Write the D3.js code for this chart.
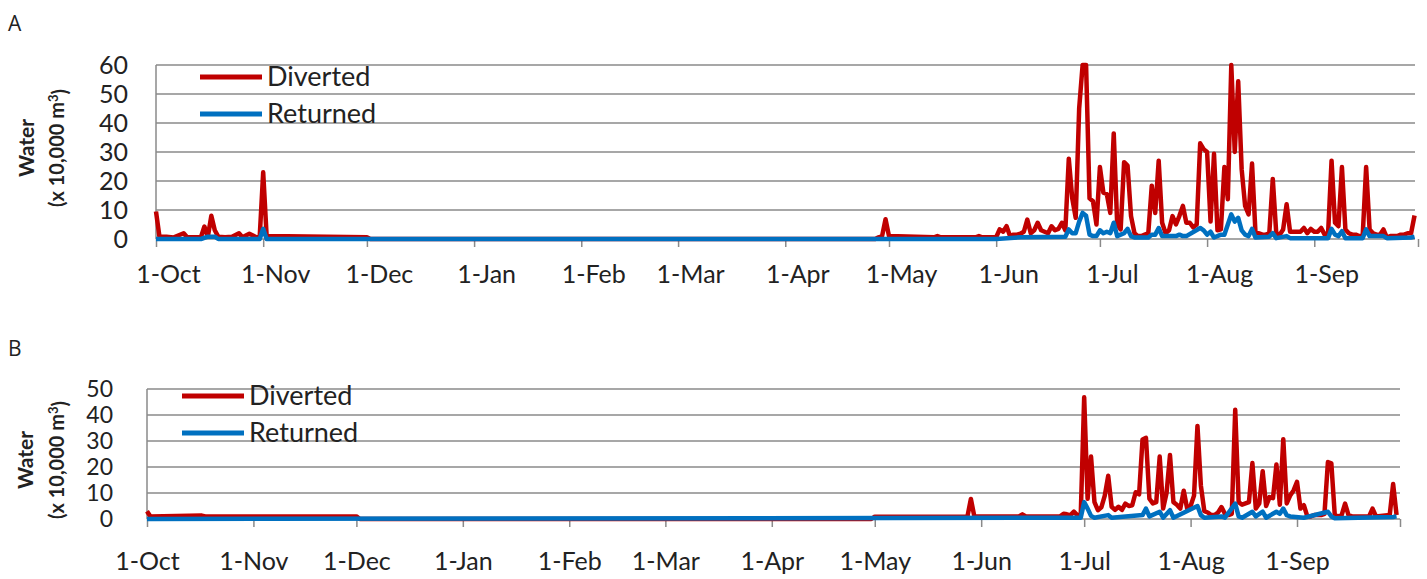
<!DOCTYPE html>
<html>
<head>
<meta charset="utf-8">
<script src="https://cdn.jsdelivr.net/npm/d3@7"></script>
<style>
  body { margin: 0; background: #fff; }
  text { font-family: Lato, "Open Sans", sans-serif; fill: #222; }
</style>
</head>
<body>
<div id="chart"></div>
<script>
var svgWidth = 1427;
var svgHeight = 579;

// day index counted from 1-Oct
var monthLabels = ["1-Oct", "1-Nov", "1-Dec", "1-Jan", "1-Feb", "1-Mar", "1-Apr", "1-May", "1-Jun", "1-Jul", "1-Aug", "1-Sep"];
var yTicksA = [0, 10, 20, 30, 40, 50, 60];
var yTicksB = [0, 10, 20, 30, 40, 50];
var seriesNames = ["Diverted", "Returned"];

// Panel A
var divertedADays = [0, 1, 3, 5, 8, 9, 13, 14, 15, 16, 17, 18, 20, 22, 24, 25, 27, 29, 30, 31, 32, 61, 62, 208, 209, 210, 211, 212, 225, 226, 227, 237, 238, 239, 243,
  244, 245, 246, 247, 248, 249, 250, 251, 252, 253, 254, 255, 256, 257, 258, 259, 260, 261, 262, 263, 264, 265, 266, 267, 268, 269, 270, 271, 272,
  273, 274, 275, 276, 277, 278, 279, 280, 281, 282, 283, 284, 285, 286, 287, 288, 289, 290, 291, 292, 293, 294, 295, 296, 297, 298, 299, 300, 301,
  302, 303, 304, 305, 306, 307, 308, 309, 310, 311, 312, 313, 314, 315, 316, 317, 318, 319, 320, 321, 322, 323, 324, 325, 326, 327, 328, 329, 330,
  331, 332, 333, 334, 335, 336, 337, 338, 339, 340, 341, 342, 343, 344, 345, 346, 347, 348, 349, 350, 351, 352, 353, 354, 355, 356, 357, 358, 359,
  360, 361, 362, 363, 364];
var divertedAVals = [9.5, 0.8, 0.8, 0.5, 2, 0.6, 0.6, 4.3, 0.8, 8, 3, 0.8, 0.6, 0.8, 2, 0.6, 1.8, 0.6, 0.8, 23, 1, 0.6, 0, 0, 0.6, 1, 6.8, 1, 0.6, 1, 0.6, 0.6, 1, 0.6, 0.6,
  3.3, 2.5, 4.4, 1, 1.5, 1.5, 1.8, 2.5, 6.7, 2, 3, 5.6, 3, 2.5, 2, 4.4, 3, 3.5, 5.6, 3, 27.7, 14, 7.3, 45, 60, 60, 14, 13, 5,
  24.8, 16, 15.5, 9, 36.4, 5, 3.3, 26.5, 25.3, 7.9, 2, 1, 1, 1.5, 2, 18.4, 9, 27, 5.6, 2, 3, 7.9, 5, 8, 11.4, 5.6, 5.6, 4, 5,
  33, 31, 30, 6, 29.4, 3, 3.3, 24.8, 13.7, 60, 30, 54.4, 24, 11.4, 8.5, 26, 2, 2, 1.5, 1.5, 2, 20.7, 2, 1.5, 3.3, 12, 2.5, 2.5, 2.5,
  2.5, 3.8, 2, 3.5, 2.5, 2.5, 3.8, 1.5, 2, 27, 5.6, 4.4, 24.8, 3.3, 2, 1.5, 1.5, 1, 1, 24.8, 3.3, 2, 1.5, 1.5, 3.3, 0.5, 1, 1, 1,
  1.5, 1.5, 2, 2, 8.1];
var returnedADays = [0, 13, 15, 17, 18, 30, 31, 32, 243, 250, 263, 264, 265, 266, 267, 268, 269, 270, 271, 272, 273, 274, 275, 276, 277, 278, 279, 280, 281, 282,
  283, 287, 288, 289, 290, 291, 295, 296, 297, 298, 302, 303, 304, 305, 306, 308, 309, 310, 311, 312, 313, 314, 315, 316, 317, 318, 322, 323, 324,
  327, 328, 339, 340, 341, 342, 343, 344, 349, 350, 351, 355, 356, 363, 364];
var returnedAVals = [0, 0, 0.8, 0.8, 0, 0, 3.5, 0, 0, 0.6, 0.8, 3.3, 2, 2, 6, 9, 8, 1.5, 1, 1, 3, 2, 2.5, 2, 5.6, 1, 1.5, 2, 3.5, 1,
  0.5, 0.5, 1.5, 1.5, 3.8, 1, 1, 1.5, 1, 1, 3.8, 3, 1.5, 2.5, 0.5, 1.5, 1.5, 5, 8.5, 6, 7.3, 3, 1.5, 1, 3.5, 0.5, 0.8, 2, 0.3,
  1, 0.3, 0.3, 3.5, 1.5, 1, 2.7, 0.3, 0.3, 3.3, 1, 1, 0.3, 0.5, 0.8];

// Panel B
var divertedBDays = [0, 1, 16, 17, 61, 62, 211, 212, 239, 240, 241, 254, 255, 256, 266, 267, 268, 269, 270, 271, 272,
  273, 274, 275, 276, 277, 278, 279, 280, 281, 282, 283, 284, 285, 286, 287, 288, 289, 290, 291, 292, 293, 294, 295, 296, 297, 298, 299, 300,
  301, 302, 303, 304, 305, 306, 307, 308, 309, 310, 311, 312, 313, 314, 315, 316, 317, 318, 319, 320, 321, 322, 323, 324, 325, 326, 327, 328,
  329, 330, 331, 332, 333, 334, 335, 336, 337, 338, 339, 340, 341, 342, 343, 344, 345, 346, 347, 348, 349, 350, 351, 356, 357, 358, 362, 363, 364];
var divertedBVals = [3, 1, 1.3, 1, 1, 0, 0, 0.9, 1, 7.7, 1, 1, 1.8, 1, 1, 2, 1.8, 1.5, 2.8, 1.5, 1.5,
  46.8, 7.8, 24, 6.5, 3.4, 4.5, 9, 16.6, 4.7, 3.5, 4.7, 3.5, 5.9, 5, 5.3, 10.3, 9.5, 30.6, 31.2, 7.8, 6, 6.5, 24, 4, 10, 24.6, 6.5, 5.5,
  4, 10.9, 4, 5, 9, 35.8, 12.8, 3, 2.5, 1.5, 1.5, 2.5, 4.6, 2, 1.5, 2, 42, 6.5, 5.5, 6, 6.5, 21.5, 4, 6, 18.4, 5, 8.4, 8,
  21, 5.5, 30.7, 6, 9, 11, 14.3, 4, 5.3, 1, 1, 1.5, 1.5, 1.5, 2, 21.9, 21.4, 1.5, 1, 1.5, 5.9, 1.5, 1, 1, 4, 1, 1.5, 13.5, 1.5];
var returnedBDays = [0, 272, 273, 274, 275, 276, 280, 281, 290, 291, 292, 295, 296, 298, 299, 306, 307, 308, 313, 314, 317, 318, 319, 322, 323,
  325, 326, 329, 330, 331, 332, 333, 337, 344, 345, 346, 363, 364];
var returnedBVals = [0, 0.5, 6.5, 4, 1.2, 0.5, 1.5, 0.5, 1.5, 4, 1, 2.8, 0.5, 3.4, 0.5, 5, 1.5, 0.5, 1, 0.5, 5.9, 1, 0.5, 2.8, 1,
  2.8, 0.5, 2.8, 2, 4, 1.5, 1, 0.5, 2.8, 1, 0.3, 0.8, 1];

var startDate = new Date(2013, 9, 1);
var endDate = new Date(2014, 9, 1);
var colors = ["#C00000", "#0070C0"];

var svg = d3.select("#chart")
  .append("svg")
  .attr("width", svgWidth)
  .attr("height", svgHeight);

function toPoints(days, vals) {
  return days.map((d, i) => ({ date: d3.timeDay.offset(startDate, d), value: vals[i] }));
}

var panels = [
  {
    letter: "A", letterY: 31, left: 156, right: 1418, gridRight: 1415, top: 65, bottom: 239, yMax: 60, yTicks: yTicksA,
    yLabelX: 128, yFont: 25, labelDx: 12, labelY: 283, titleX: [27, 57], titleY: 148,
    legendX: [200, 262], legendY: [77, 114],
    series: [toPoints(divertedADays, divertedAVals), toPoints(returnedADays, returnedAVals)]
  },
  {
    letter: "B", letterY: 356, left: 147, right: 1400, gridRight: 1400, top: 389, bottom: 519, yMax: 50, yTicks: yTicksB,
    yLabelX: 113, yFont: 23, labelDx: 0, labelY: 570, titleX: [26, 57], titleY: 460,
    legendX: [182, 244], legendY: [396, 433],
    series: [toPoints(divertedBDays, divertedBVals), toPoints(returnedBDays, returnedBVals)]
  }
];

panels.forEach(function (p) {
  var g = svg.append("g");

  var x = d3.scaleTime().domain([startDate, endDate]).range([p.left, p.right]);
  var y = d3.scaleLinear().domain([0, p.yMax]).range([p.bottom, p.top]);

  // panel letter
  g.append("text")
    .attr("x", 8)
    .attr("y", p.letterY)
    .style("font-family", "'Open Sans', sans-serif")
    .style("font-size", "21px")
    .text(p.letter);

  // gridlines
  g.selectAll("line.grid")
    .data(p.yTicks)
    .enter()
    .append("line")
    .attr("x1", p.left)
    .attr("x2", p.gridRight)
    .attr("y1", d => y(d))
    .attr("y2", d => y(d))
    .attr("stroke", "#8a8a8a")
    .attr("stroke-width", 1.5);

  // left border
  g.append("line")
    .attr("x1", p.left).attr("x2", p.left)
    .attr("y1", p.top).attr("y2", p.bottom)
    .attr("stroke", "#8a8a8a")
    .attr("stroke-width", 1.5);

  // y tick labels
  g.selectAll("text.ytick")
    .data(p.yTicks)
    .enter()
    .append("text")
    .attr("x", p.yLabelX)
    .attr("y", d => y(d))
    .attr("dy", "0.36em")
    .attr("text-anchor", "end")
    .style("font-size", p.yFont + "px")
    .text(d => d);

  // x axis
  var months = d3.timeMonth.range(startDate, d3.timeDay.offset(endDate, 1));
  var bottomAxis = d3.axisBottom(x)
    .tickValues(months)
    .tickSize(8)
    .tickFormat((d, i) => monthLabels[i] || "");

  var xAxis = g.append("g")
    .attr("transform", `translate(0, ${p.bottom})`)
    .call(bottomAxis);
  xAxis.select(".domain").remove();
  xAxis.selectAll("line").attr("stroke", "#8a8a8a").attr("stroke-width", 1.5);
  xAxis.selectAll("text")
    .attr("y", p.labelY - p.bottom)
    .attr("dy", 0)
    .attr("dx", p.labelDx)
    .style("font-size", "25px")
    .style("font-family", "Lato, sans-serif")
    .attr("fill", "#222");

  // axis title
  g.append("g")
    .attr("transform", `translate(${p.titleX[0]}, ${p.titleY}) rotate(-90)`)
    .append("text")
    .attr("text-anchor", "middle")
    .attr("dy", "0.35em")
    .style("font-size", "21px")
    .style("font-weight", "bold")
    .text("Water");
  var t2 = g.append("g")
    .attr("transform", `translate(${p.titleX[1]}, ${p.titleY}) rotate(-90)`)
    .append("text")
    .attr("text-anchor", "middle")
    .attr("dy", "0.35em")
    .style("font-size", "20px")
    .style("font-weight", "bold");
  t2.append("tspan").text("(x 10,000 m");
  t2.append("tspan").attr("dy", "-0.45em").style("font-size", "13px").text("3");
  t2.append("tspan").attr("dy", "0.45em").text(")");

  // series lines
  var line = d3.line()
    .x(d => x(d.date))
    .y(d => y(d.value));

  p.series.forEach(function (s, i) {
    g.append("path")
      .datum(s)
      .attr("fill", "none")
      .attr("stroke", colors[i])
      .attr("stroke-width", 4.5)
      .attr("stroke-linejoin", "round")
      .attr("d", line);
  });

  // legend
  seriesNames.forEach(function (name, i) {
    g.append("line")
      .attr("x1", p.legendX[0]).attr("x2", p.legendX[1])
      .attr("y1", p.legendY[i]).attr("y2", p.legendY[i])
      .attr("stroke", colors[i])
      .attr("stroke-width", 5);
    g.append("text")
      .attr("x", p.legendX[1] + 5)
      .attr("y", p.legendY[i])
      .attr("dy", "0.35em")
      .style("font-size", "27px")
      .text(name);
  });
});
</script>
</body>
</html>
